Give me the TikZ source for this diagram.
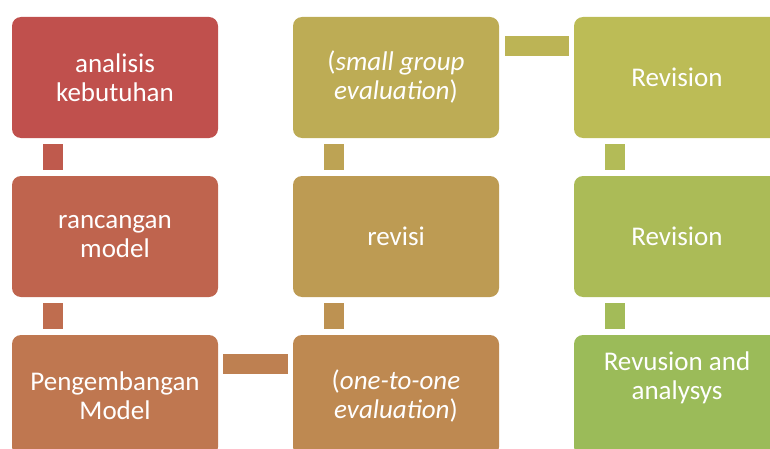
\documentclass[tikz,border=0pt]{standalone}
\usepackage{fontspec}
\setmainfont{Carlito}
\usepackage{xcolor}
\usepackage{tikz}

\definecolor{stA}{HTML}{C0504D}
\definecolor{stB}{HTML}{BF644E}
\definecolor{stC}{HTML}{BF7750}
\definecolor{stD}{HTML}{BE8951}
\definecolor{stE}{HTML}{BD9B53}
\definecolor{stF}{HTML}{BDAC55}
\definecolor{stG}{HTML}{BCBC56}
\definecolor{stH}{HTML}{ABBB57}
\definecolor{stI}{HTML}{9BBB59}

\begin{document}
\begin{tikzpicture}[x=1pt, y=1pt, node distance=159pt,
    stage/.style={rectangle, rounded corners=9pt, minimum width=206pt,
                  minimum height=121pt, align=center, text=white, inner sep=4pt,
                  font=\fontsize{27}{29}\selectfont},
    link/.style={line width=20pt}]
    \clip (0,0) rectangle (770,448);
    \node[stage, fill=stA] (analisis) at (115,370.5) {analisis\\kebutuhan};
    \node[stage, fill=stB, below of=analisis] (rancangan) {rancangan\\model};
    \node[stage, fill=stC, below of=rancangan] (pengembangan) {Pengembangan\\Model};
    \node[stage, fill=stD, right of=pengembangan, node distance=281pt] (onetoone) {(\textit{one-to-one}\\\textit{evaluation})};
    \node[stage, fill=stE, above of=onetoone] (revisi) {revisi};
    \node[stage, fill=stF, above of=revisi] (smallgroup) {(\textit{small group}\\\textit{evaluation})};
    \node[stage, fill=stG, right of=smallgroup, node distance=281pt] (revA) {Revision};
    \node[stage, fill=stH, below of=revA] (revB) {Revision};
    \node[stage, fill=stI, below of=revB, text depth=40pt] (revC) {Revusion and\\analysys};
    \draw[link, draw=stA!50!stB] ([xshift=41pt,yshift=-6pt]analisis.south west) -- ([xshift=41pt,yshift=6pt]rancangan.north west);
    \draw[link, draw=stB!50!stC] ([xshift=41pt,yshift=-6pt]rancangan.south west) -- ([xshift=41pt,yshift=6pt]pengembangan.north west);
    \draw[link, draw=stC!50!stD] ([xshift=5pt,yshift=-29pt]pengembangan.north east) -- ([xshift=-5pt,yshift=-29pt]onetoone.north west);
    \draw[link, draw=stD!50!stE] ([xshift=41pt,yshift=6pt]onetoone.north west) -- ([xshift=41pt,yshift=-6pt]revisi.south west);
    \draw[link, draw=stE!50!stF] ([xshift=41pt,yshift=6pt]revisi.north west) -- ([xshift=41pt,yshift=-6pt]smallgroup.south west);
    \draw[link, draw=stF!50!stG] ([xshift=6pt,yshift=-29pt]smallgroup.north east) -- ([xshift=-5pt,yshift=-29pt]revA.north west);
    \draw[link, draw=stG!50!stH] ([xshift=41pt,yshift=-6pt]revA.south west) -- ([xshift=41pt,yshift=6pt]revB.north west);
    \draw[link, draw=stH!50!stI] ([xshift=41pt,yshift=-6pt]revB.south west) -- ([xshift=41pt,yshift=6pt]revC.north west);
\end{tikzpicture}
\end{document}
